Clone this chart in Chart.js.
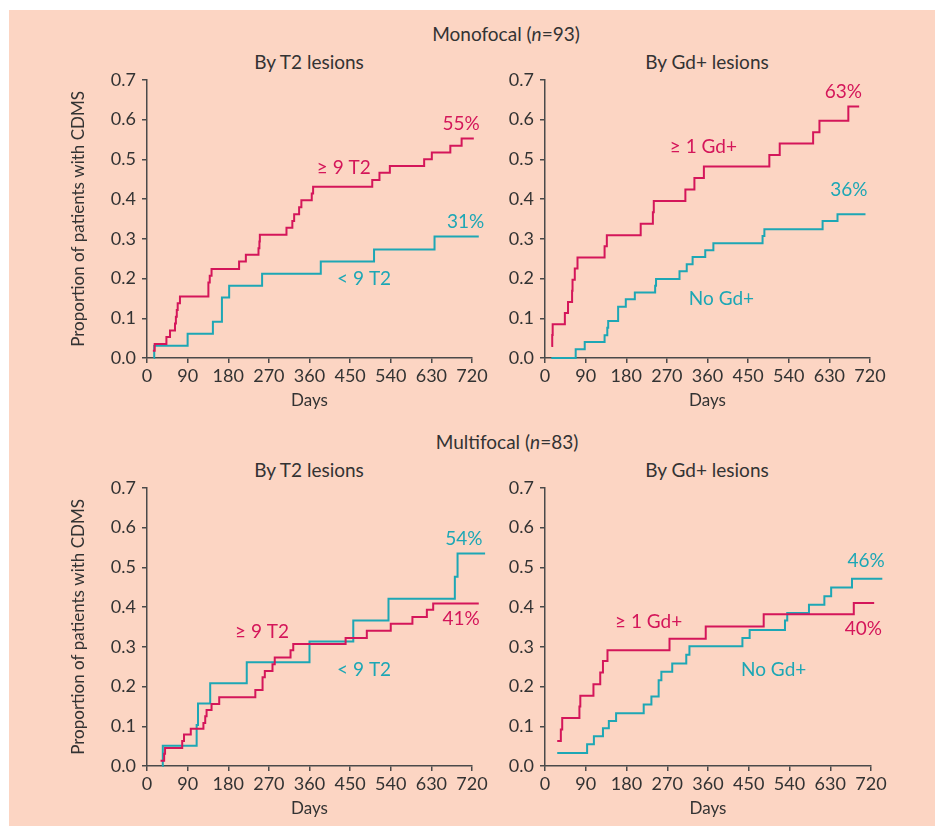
<!DOCTYPE html>
<html><head><meta charset="utf-8">
<script src="https://cdn.jsdelivr.net/npm/chart.js@4/dist/chart.umd.min.js"></script>
<style>
html,body{margin:0;padding:0;background:#fff;}
body{width:935px;height:827px;position:relative;overflow:hidden;font-family:Lato,sans-serif;color:#333;}
#bg{position:absolute;left:9px;top:10px;width:926px;height:816px;background:#fcd5c3;}
.h{position:absolute;font-size:19px;transform:translate(-50%,-50%);white-space:nowrap;}
canvas{position:absolute;}
</style></head><body>
<div id="bg"></div>
<div class="h" style="left:506px;top:33px">Monofocal (<i>n</i>=93)</div>
<div class="h" style="left:309px;top:61px">By T2 lesions</div>
<div class="h" style="left:707px;top:61px">By Gd+ lesions</div>
<div class="h" style="left:507px;top:441px">Multifocal (<i>n</i>=83)</div>
<div class="h" style="left:309px;top:469px">By T2 lesions</div>
<div class="h" style="left:707px;top:469px">By Gd+ lesions</div>
<canvas id="c1" width="440" height="357" style="left:60px;top:63px"></canvas>
<canvas id="c2" width="398" height="357" style="left:500px;top:63px"></canvas>
<canvas id="c3" width="440" height="357" style="left:60px;top:471px"></canvas>
<canvas id="c4" width="398" height="357" style="left:500px;top:471px"></canvas>
<script>
// ---- tick labels ----
const xTicks = [0, 90, 180, 270, 360, 450, 540, 630, 720];
const yTicks = [0.0, 0.1, 0.2, 0.3, 0.4, 0.5, 0.6, 0.7];

// ---- Monofocal, by T2 lesions ----
const monoT2HighDays = [13, 17, 43, 51, 62, 64, 66, 68, 73, 136, 139, 143, 204, 219, 247, 249, 250, 309, 322, 326, 337, 342, 365, 368, 499, 515, 538, 614, 631, 672, 697, 724];
const monoT2HighVals = [0.018, 0.035, 0.053, 0.069, 0.087, 0.104, 0.121, 0.138, 0.155, 0.190, 0.207, 0.224, 0.243, 0.260, 0.276, 0.293, 0.310, 0.328, 0.345, 0.362, 0.379, 0.397, 0.414, 0.431, 0.448, 0.466, 0.483, 0.500, 0.517, 0.534, 0.552, 0.552];
const monoT2LowDays = [15, 16, 90, 146, 166, 182, 255, 385, 503, 637, 735];
const monoT2LowVals = [0, 0.031, 0.061, 0.091, 0.152, 0.182, 0.212, 0.243, 0.273, 0.306, 0.306];

// ---- Monofocal, by Gd+ lesions ----
const monoGdPosDays = [14, 16, 17, 44, 51, 60, 61, 66, 72, 132, 137, 212, 239, 241, 311, 331, 352, 497, 520, 594, 608, 672, 696];
const monoGdPosVals = [0.030, 0.058, 0.085, 0.113, 0.141, 0.169, 0.197, 0.225, 0.253, 0.281, 0.309, 0.338, 0.367, 0.395, 0.424, 0.453, 0.482, 0.511, 0.540, 0.568, 0.597, 0.633, 0.633];
const monoGdNegDays = [14, 68, 88, 132, 138, 140, 162, 179, 199, 244, 246, 298, 314, 327, 355, 373, 482, 486, 615, 648, 710];
const monoGdNegVals = [0, 0.022, 0.040, 0.057, 0.076, 0.093, 0.129, 0.148, 0.165, 0.182, 0.199, 0.218, 0.236, 0.254, 0.271, 0.289, 0.307, 0.324, 0.345, 0.362, 0.362];

// ---- Multifocal, by T2 lesions ----
const multiT2HighDays = [30, 38, 40, 78, 82, 97, 125, 129, 132, 143, 160, 240, 256, 261, 278, 283, 318, 324, 440, 487, 540, 588, 620, 634, 735];
const multiT2HighVals = [0.013, 0.031, 0.045, 0.063, 0.079, 0.094, 0.108, 0.125, 0.141, 0.156, 0.173, 0.191, 0.223, 0.239, 0.256, 0.273, 0.291, 0.307, 0.322, 0.340, 0.358, 0.375, 0.393, 0.409, 0.409];
const multiT2LowDays = [34, 35, 110, 113, 140, 221, 360, 457, 535, 682, 688, 749];
const multiT2LowVals = [0, 0.051, 0.103, 0.157, 0.208, 0.261, 0.313, 0.366, 0.421, 0.476, 0.535, 0.535];

// ---- Multifocal, by Gd+ lesions ----
const multiGdPosDays = [27, 35, 38, 76, 78, 107, 122, 128, 138, 275, 355, 483, 682, 727];
const multiGdPosVals = [0.063, 0.092, 0.121, 0.150, 0.177, 0.206, 0.235, 0.264, 0.291, 0.320, 0.351, 0.382, 0.410, 0.410];
const multiGdNegDays = [27, 93, 108, 128, 141, 157, 218, 235, 251, 257, 281, 312, 319, 436, 452, 530, 535, 583, 617, 632, 678, 745];
const multiGdNegVals = [0.033, 0.055, 0.075, 0.095, 0.113, 0.133, 0.155, 0.175, 0.216, 0.237, 0.258, 0.280, 0.301, 0.322, 0.342, 0.366, 0.385, 0.406, 0.427, 0.449, 0.471, 0.471];

// ---- in-plot labels: [text, day, proportion, series] ----
const monoT2Notes = [["55%", 696, 0.589, "r"], ["\u2265 9 T2", 436, 0.479, "r"], ["31%", 706, 0.343, "c"], ["< 9 T2", 481, 0.198, "c"]];
const monoGdNotes = [["63%", 661, 0.669, "r"], ["\u2265 1 Gd+", 351, 0.531, "r"], ["36%", 673, 0.423, "c"], ["No Gd+", 391, 0.150, "c"]];
const multiT2Notes = [["54%", 702, 0.571, "c"], ["\u2265 9 T2", 255, 0.338, "r"], ["41%", 696, 0.370, "r"], ["< 9 T2", 481, 0.243, "c"]];
const multiGdNotes = [["46%", 709, 0.516, "c"], ["\u2265 1 Gd+", 229, 0.363, "r"], ["40%", 703, 0.344, "r"], ["No Gd+", 505, 0.243, "c"]];

const RED = "#d4165a";
const CYAN = "#1da7b5";
const AXIS = "#4a4a4a";
const TXT = "#333333";
const FONT = "Lato";

const notesPlugin = {
  id: "notes",
  afterDatasetsDraw(chart, args, opts) {
    const {ctx, scales: {x, y}} = chart;
    ctx.save();
    ctx.font = "19px " + FONT;
    ctx.textAlign = "center";
    ctx.textBaseline = "middle";
    (opts.items || []).forEach(n => {
      ctx.fillStyle = n[3] === "r" ? RED : CYAN;
      ctx.fillText(n[0], x.getPixelForValue(n[1]), y.getPixelForValue(n[2]));
    });
    ctx.restore();
  }
};

function pts(days, vals) { return days.map((d, i) => ({x: d, y: vals[i]})); }

function make(id, series, notes, yWidth, rightPad, yTitle) {
  new Chart(document.getElementById(id), {
    type: "line",
    data: {
      datasets: series.map(s => ({
        data: pts(s[0], s[1]),
        borderColor: s[2],
        borderWidth: 2,
        pointRadius: 0,
        stepped: true,
        fill: false,
        clip: false
      }))
    },
    options: {
      responsive: false,
      animation: false,
      events: [],
      layout: {padding: {left: 0, top: 0, right: rightPad, bottom: 9}},
      plugins: {legend: {display: false}, tooltip: {enabled: false}, notes: {items: notes}},
      scales: {
        x: {
          type: "linear", min: 0, max: 720,
          afterBuildTicks: s => { s.ticks = xTicks.map(v => ({value: v})); },
          afterFit: s => { s.height = 53; },
          grid: {drawOnChartArea: false, drawTicks: true, tickLength: 5, color: AXIS, lineWidth: 1.5},
          border: {display: true, color: AXIS, width: 1.5},
          ticks: {autoSkip: false, maxRotation: 0, padding: 2, color: TXT, font: {family: FONT, size: 18}},
          title: {display: true, text: "Days", color: TXT, font: {family: FONT, size: 17}, padding: {top: 0, bottom: 0}}
        },
        y: {
          type: "linear", min: 0, max: 0.7,
          afterBuildTicks: s => { s.ticks = yTicks.map(v => ({value: v})); },
          afterFit: s => { s.width = yWidth; },
          grid: {drawOnChartArea: false, drawTicks: true, tickLength: 5, color: AXIS, lineWidth: 1.5},
          border: {display: true, color: AXIS, width: 1.5},
          ticks: {padding: 6, color: TXT, font: {family: FONT, size: 18}, callback: v => Number(v).toFixed(1)},
          title: {display: !!yTitle, text: "Proportion of patients with CDMS", color: TXT, font: {family: FONT, size: 17}, padding: {top: 8, bottom: 0}}
        }
      }
    },
    plugins: [notesPlugin]
  });
}

make("c1", [[monoT2HighDays, monoT2HighVals, RED], [monoT2LowDays, monoT2LowVals, CYAN]], monoT2Notes, 87, 28, true);
make("c2", [[monoGdPosDays, monoGdPosVals, RED], [monoGdNegDays, monoGdNegVals, CYAN]], monoGdNotes, 45, 28, false);
make("c3", [[multiT2HighDays, multiT2HighVals, RED], [multiT2LowDays, multiT2LowVals, CYAN]], multiT2Notes, 87, 28, true);
make("c4", [[multiGdPosDays, multiGdPosVals, RED], [multiGdNegDays, multiGdNegVals, CYAN]], multiGdNotes, 45, 27, false);
</script>
</body></html>
